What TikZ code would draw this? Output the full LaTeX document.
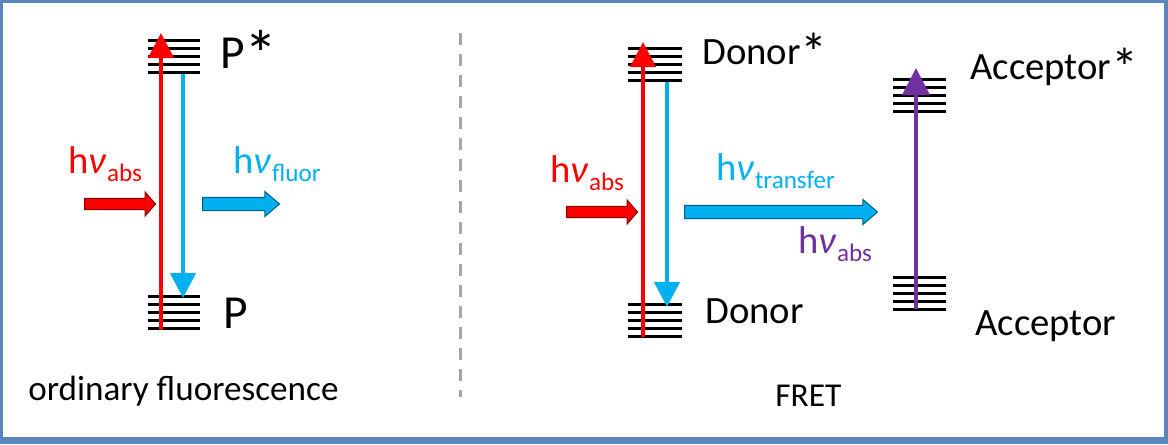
\documentclass[tikz,border=0pt]{standalone}
\usepackage{fontspec}
\setmainfont{Carlito}
\usetikzlibrary{arrows.meta, shapes.arrows}
\definecolor{cframe}{HTML}{5A86C0}
\definecolor{cred}{HTML}{FF0000}
\definecolor{cblue}{HTML}{00B0F0}
\definecolor{cpurple}{HTML}{7030A0}
\definecolor{cdash}{HTML}{A6A6A6}
\newcommand\hnu[1]{h\textit{ν}\raisebox{-0.23em}{\scalebox{0.65}{#1}}}
\newcommand\excited{\raisebox{-0.2em}{\scalebox{1.4}{*}}}
\tikzset{
  level/.style={line width=0.06cm, black},
  updown/.style={draw=#1, line width=0.09cm, -{Triangle[width=0.5cm, length=0.5cm]}},
  block/.style={single arrow, draw=#1!55!black, fill=#1, line width=0.6pt, inner xsep=0pt, anchor=tail},
  state/.style={anchor=base west, font=\fontsize{22pt}{24pt}\selectfont, inner sep=0pt},
  photon/.style={anchor=base west, font=\fontsize{22pt}{24pt}\selectfont, inner sep=0pt, text=#1},
  caption/.style={anchor=base west, font=\fontsize{20pt}{22pt}\selectfont, inner sep=0pt},
}
\begin{document}
\begin{tikzpicture}[x=0.02cm, y=-0.02cm]
  \useasboundingbox (0,0) rectangle (1168,444);
  \fill[cframe] (0,0) rectangle (1168,444);
  \fill[white] (3,3) rectangle (1164,437);
  % separator
  \draw[cdash, line width=0.06cm, dash pattern=on 0.24cm off 0.18cm] (460,33) -- (460,397);

  % energy levels
  \foreach \y in {40,48,...,72} \draw[level] (148,\y) -- (200,\y);
  \foreach \y in {296,304,...,328} \draw[level] (148,\y) -- (200,\y);
  \foreach \y in {48,56,...,80} \draw[level] (628,\y) -- (682,\y);
  \foreach \y in {304,312,...,336} \draw[level] (628,\y) -- (682,\y);
  \foreach \y in {79,87,...,111} \draw[level] (893,\y) -- (946,\y);
  \foreach \y in {277,285,...,309} \draw[level] (893,\y) -- (946,\y);

  % ordinary fluorescence
  \coordinate (Pup) at (161,33);   \coordinate (Plow) at (161,330);
  \coordinate (Ptop) at (183,74);  \coordinate (Pbot) at (183,298);
  \draw[updown=cred] (Plow) -- (Pup);
  \draw[updown=cblue] (Ptop) -- (Pbot);
  \node[state, font=\fontsize{27pt}{29pt}\selectfont] (Pstar) at (220,68) {P\excited};
  \node[state, font=\fontsize{27pt}{29pt}\selectfont] (Pground) at (223,328) {P};
  \node[block=cred, minimum height=1.42cm, inner ysep=0.1cm,
        single arrow head extend=0.13cm, single arrow tip angle=98] (inL) at (84,204) {};
  \node[block=cblue, minimum height=1.54cm, inner ysep=0.12cm,
        single arrow head extend=0.12cm, single arrow tip angle=81] (outL) at (202,204) {};
  \node[photon=cred] (absL) at (68,173) {\hnu{abs}};
  \node[photon=cblue] (fluor) at (233,173) {\hnu{fluor}};
  \node[caption] (ordinary) at (28,400) {ordinary fluorescence};

  % FRET
  \coordinate (Dup) at (643,42);   \coordinate (Dlow) at (643,337);
  \coordinate (Dtop) at (667,82);  \coordinate (Dbot) at (667,307);
  \coordinate (Aup) at (916,68);   \coordinate (Alow) at (916,309);
  \draw[updown=cred] (Dlow) -- (Dup);
  \draw[updown=cblue] (Dtop) -- (Dbot);
  \draw[updown=cpurple, line width=0.08cm, -{Triangle[width=0.54cm, length=0.54cm]}] (Alow) -- (Aup);
  \node[state] (donorstar) at (702,64) {Donor\excited};
  \node[state] (donor) at (705,323) {Donor};
  \node[state] (acceptorstar) at (970,79) {Acceptor\excited};
  \node[state] (acceptor) at (975,335) {Acceptor};
  \node[block=cred, minimum height=1.42cm, inner ysep=0.1cm,
        single arrow head extend=0.13cm, single arrow tip angle=98] (inR) at (566,212) {};
  \node[block=cblue, minimum height=3.86cm, inner ysep=0.12cm,
        single arrow head extend=0.12cm, single arrow tip angle=81] (transfer) at (684,212) {};
  \node[photon=cred] (absR) at (550,182) {\hnu{abs}};
  \node[photon=cblue] (trans) at (716,180) {\hnu{transfer}};
  \node[photon=cpurple] (absA) at (798,253) {\hnu{abs}};
  \node[caption, font=\fontsize{19pt}{21pt}\selectfont] (fret) at (775,406) {FRET};
\end{tikzpicture}
\end{document}
